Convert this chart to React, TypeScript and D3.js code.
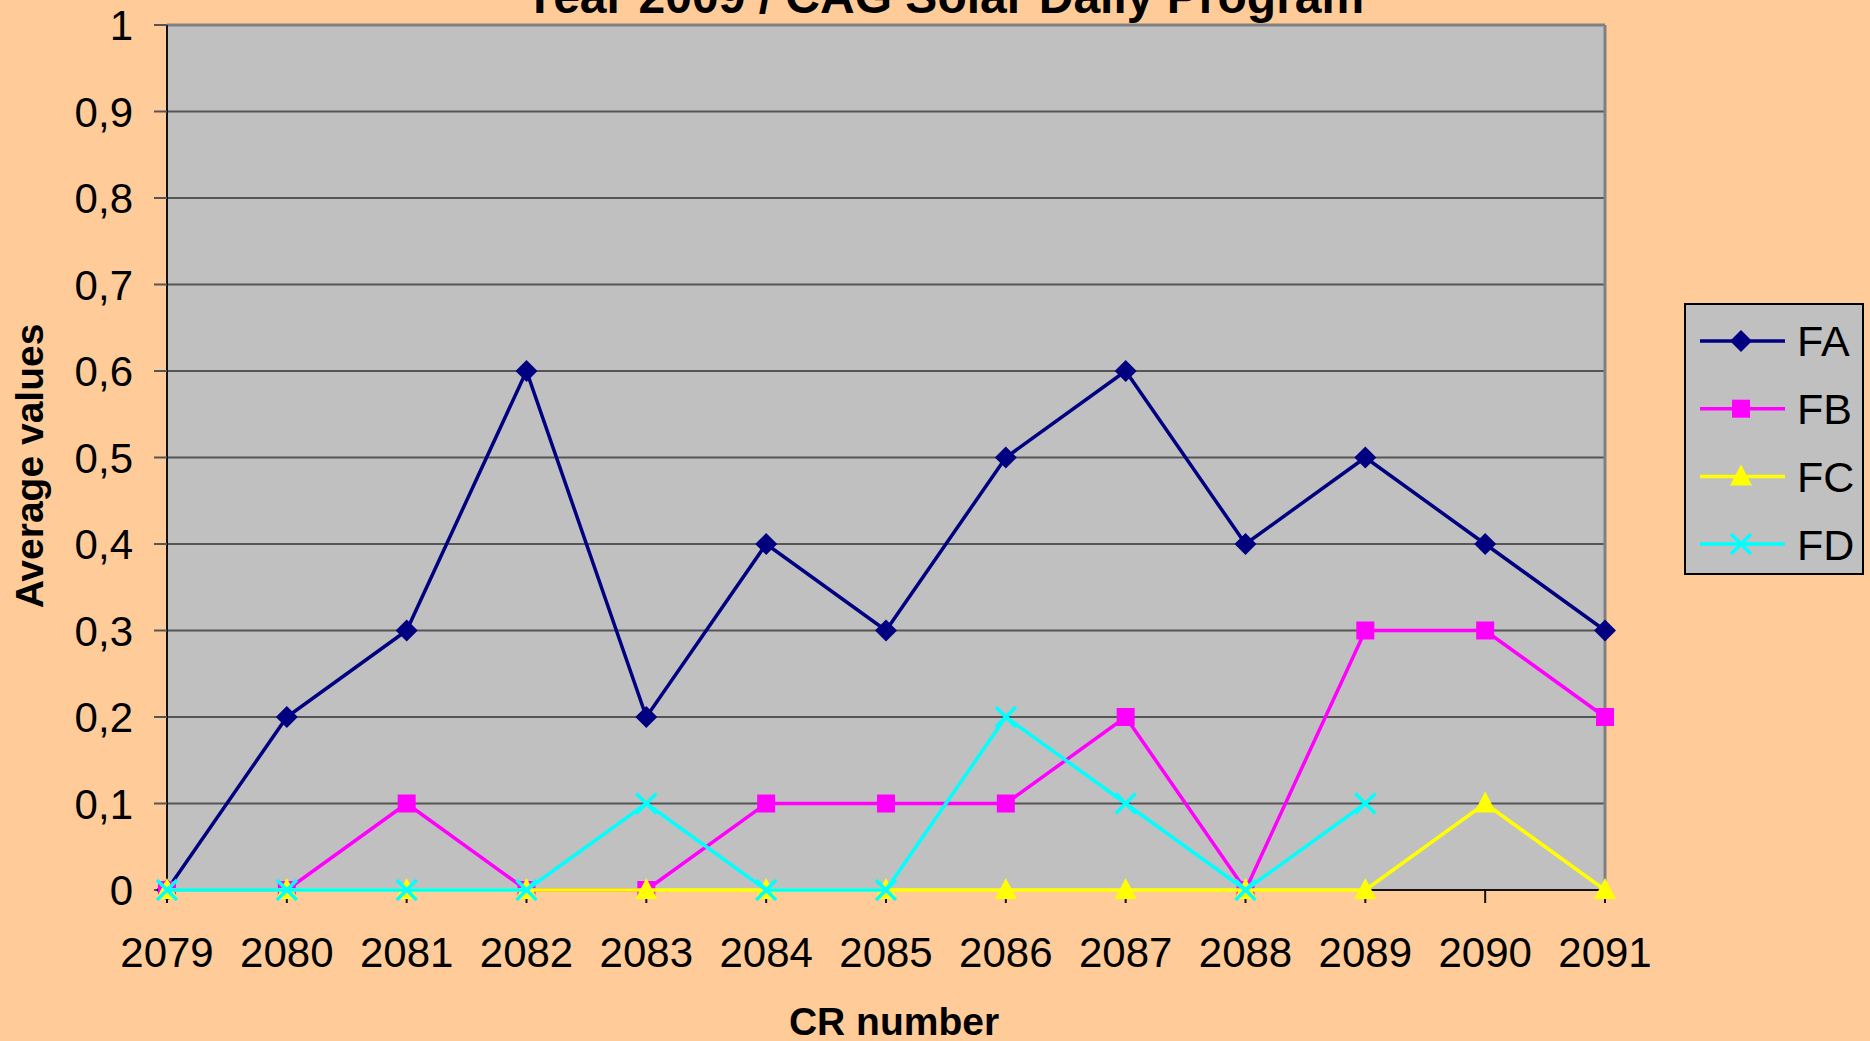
import { useMemo } from 'react';
import * as d3 from 'd3';

const years = ['2079', '2080', '2081', '2082', '2083', '2084', '2085', '2086', '2087', '2088', '2089', '2090', '2091'];
const fa = [0, 0.2, 0.3, 0.6, 0.2, 0.4, 0.3, 0.5, 0.6, 0.4, 0.5, 0.4, 0.3];
const fb = [0, 0, 0.1, 0, 0, 0.1, 0.1, 0.1, 0.2, 0, 0.3, 0.3, 0.2];
const fc = [0, 0, 0, 0, 0, 0, 0, 0, 0, 0, 0, 0.1, 0];
const fd = [0, 0, 0, 0, 0.1, 0, 0, 0.2, 0.1, 0, 0.1, null, null];
const yTicks = [0, 0.1, 0.2, 0.3, 0.4, 0.5, 0.6, 0.7, 0.8, 0.9, 1];

const series = [
    { name: 'FA', values: fa, color: '#000080', marker: 'diamond' },
    { name: 'FB', values: fb, color: '#FF00FF', marker: 'square' },
    { name: 'FC', values: fc, color: '#FFFF00', marker: 'triangle' },
    { name: 'FD', values: fd, color: '#00FFFF', marker: 'x' },
];

const W = 1870;
const H = 1041;
const plot = { left: 167, right: 1605, top: 25, bottom: 890 };
const font = 'Arial, "Liberation Sans", Helvetica, sans-serif';

function Marker({ type, x, y, color }) {
    if (type === 'diamond') {
        return <path d={`M${x},${y - 11}L${x + 11},${y}L${x},${y + 11}L${x - 11},${y}Z`} fill={color} />;
    }
    if (type === 'square') {
        return <rect x={x - 9} y={y - 9} width={18} height={18} fill={color} />;
    }
    if (type === 'triangle') {
        return <path d={`M${x},${y - 12}L${x + 11},${y + 9}L${x - 11},${y + 9}Z`} fill={color} />;
    }
    return (
        <path d={`M${x - 10},${y - 10}L${x + 10},${y + 10}M${x - 10},${y + 10}L${x + 10},${y - 10}`}
            stroke={color} strokeWidth={3.5} fill="none" />
    );
}

function App() {
    const x = useMemo(() => d3.scalePoint().domain(years).range([plot.left, plot.right]), []);
    const y = useMemo(() => d3.scaleLinear().domain([0, 1]).range([plot.bottom, plot.top]), []);

    const line = d3.line<any>()
        .defined((d) => d.v !== null)
        .x((d) => x(d.year))
        .y((d) => y(d.v));

    const fmt = (v) => (v === 0 ? '0' : v === 1 ? '1' : String(v).replace('.', ','));

    return (
        <svg width={W} height={H} style={{ position: 'fixed', left: 0, top: 0, display: 'block' }}>
            <rect width={W} height={H} fill="#FFCC99" />
            <rect x={plot.left} y={plot.top} width={plot.right - plot.left} height={plot.bottom - plot.top} fill="#C0C0C0" />

            {yTicks.slice(1).map((t) => (
                <line key={`g-${t}`} x1={plot.left} x2={plot.right} y1={y(t)} y2={y(t)} stroke="#555" strokeWidth={2} />
            ))}
            <line x1={plot.left} x2={plot.right} y1={plot.top} y2={plot.top} stroke="#808080" strokeWidth={3} />
            <line x1={plot.right} x2={plot.right} y1={plot.top} y2={plot.bottom} stroke="#808080" strokeWidth={3} />
            <line x1={plot.left} x2={plot.left} y1={plot.top} y2={plot.bottom} stroke="#111" strokeWidth={2} />
            <line x1={plot.left} x2={plot.right} y1={plot.bottom} y2={plot.bottom} stroke="#111" strokeWidth={2} />

            {yTicks.map((t) => (
                <g key={`yt-${t}`}>
                    <line x1={plot.left - 13} x2={plot.left} y1={y(t)} y2={y(t)} stroke="#555" strokeWidth={2} />
                    <text x={133} y={y(t)} dy="0.36em" textAnchor="end" fontFamily={font} fontSize={42}>{fmt(t)}</text>
                </g>
            ))}
            {years.map((yr) => (
                <g key={`xt-${yr}`}>
                    <line x1={x(yr)} x2={x(yr)} y1={plot.bottom} y2={plot.bottom + 13} stroke="#111" strokeWidth={2} />
                    <text x={x(yr)} y={967} textAnchor="middle" fontFamily={font} fontSize={42}>{yr}</text>
                </g>
            ))}

            {series.map((s) => {
                const pts = s.values.map((v, i) => ({ year: years[i], v }));
                return (
                    <g key={s.name}>
                        <path d={line(pts)} fill="none" stroke={s.color} strokeWidth={3.5} />
                        {pts.filter((p) => p.v !== null).map((p) => (
                            <Marker key={p.year} type={s.marker} x={x(p.year)} y={y(p.v)} color={s.color} />
                        ))}
                    </g>
                );
            })}

            <text x={944} y={13} textAnchor="middle" fontFamily={font} fontWeight="bold" fontSize={48}>
                Year 2009 / CAG Solar Daily Program
            </text>
            <text x={894} y={1035} textAnchor="middle" fontFamily={font} fontWeight="bold" fontSize={39}>CR number</text>
            <text transform={`translate(43,466) rotate(-90)`} textAnchor="middle" fontFamily={font} fontWeight="bold" fontSize={39}>
                Average values
            </text>

            <g>
                <rect x={1685} y={304} width={178} height={270} fill="#C0C0C0" stroke="#000" strokeWidth={2} />
                {series.map((s, i) => {
                    const ly = 341 + i * 67.7;
                    return (
                        <g key={`lg-${s.name}`}>
                            <line x1={1700} x2={1785} y1={ly} y2={ly} stroke={s.color} strokeWidth={3.5} />
                            <Marker type={s.marker} x={1741} y={ly} color={s.color} />
                            <text x={1797} y={ly} dy="0.36em" fontFamily={font} fontSize={43}>{s.name}</text>
                        </g>
                    );
                })}
            </g>
        </svg>
    );
}

export default App;
